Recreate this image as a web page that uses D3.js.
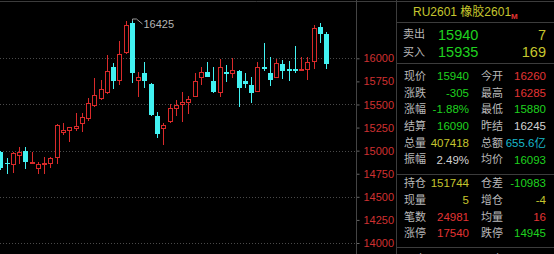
<!DOCTYPE html>
<html>
<head>
<meta charset="utf-8">
<script src="https://cdn.jsdelivr.net/npm/d3@7/dist/d3.min.js"></script>
<style>
  html, body { margin: 0; padding: 0; background: #000; overflow: hidden; }
  svg { display: block; font-family: "Liberation Sans", Arial, "Noto Sans CJK SC", sans-serif; }
</style>
</head>
<body>
<div id="chart"></div>
<script>
// daily candles, oldest first
const opens  = [14990,14867,14842,14945,14996,14855,14801,14841,14852,14917,15188,15216,15231,15285,15343,15483,15556,15627,15903,15754,16054,16379,15754,15838,15722,15378,15234,15307,15448,15491,15519,15584,15783,15855,15754,15627,15852,15827,15862,15754,15711,15638,15903,15844,15790,15938,15884,15884,15866,15873,15957,16342,16260];
const highs  = [15000,14917,14985,15043,15043,14989,14880,14928,14930,15285,15303,15260,15404,15404,15567,15783,15765,16036,15946,16191,16404,16425,15855,15957,15730,15422,15303,15502,15548,15638,15592,15838,15909,15957,15909,15992,15927,16006,15870,15838,15794,15963,16162,16017,15989,15982,15974,16133,16017,16017,16361,16379,16285];
const lows   = [14790,14747,14761,14855,14798,14852,14747,14747,14815,14855,15169,15097,15216,15205,15321,15469,15548,15613,15664,15711,16043,15736,15578,15675,15375,15134,15060,15296,15375,15307,15397,15578,15711,15794,15621,15584,15740,15783,15476,15675,15513,15630,15866,15700,15783,15773,15757,15838,15866,15765,15881,16162,15880];
const closes = [14809,14855,14978,14985,14877,14874,14855,14863,14924,15278,15224,15253,15267,15368,15513,15603,15668,15862,15757,16047,16361,15838,15794,15757,15386,15180,15278,15458,15494,15530,15556,15754,15855,15801,15638,15903,15827,15873,15675,15718,15627,15903,15884,15765,15946,15862,15866,15866,15884,15957,16325,16260,15940];

const yTicks = [14000,14250,14500,14750,15000,15250,15500,15750,16000];
const gridTicks = [14000,14500,15000,15500,16000];
const peakLabel = "16425";

// quote panel
const title = "RU2601 橡胶2601";
const bidAsk = [["卖出","15940","7"],["买入","15935","169"]];
const quoteRows = [
  ["现价","15940","今开","16260"],
  ["涨跌","-305","最高","16285"],
  ["涨幅","-1.88%","最低","15880"],
  ["结算","16090","昨结","16245"],
  ["总量","407418","总额","655.6亿"],
  ["振幅","2.49%","均价","16093"]
];
const posRows = [
  ["持仓","151744","仓差","-10983"],
  ["现量","5","增仓","-4"],
  ["笔数","24981","均量","16"],
  ["涨停","17540","跌停","14945"],
  ["开仓","396435","平仓","410491"]
];
const quoteColors = [["g","r"],["g","r"],["g","g"],["g","w"],["y","c"],["w","g"]];
const posColors = [["y","g"],["y","y"],["r","r"],["r","g"],["y","y"]];

const C = { g: "#1fd21f", r: "#e23434", y: "#c6c62e", c: "#19b9cc", w: "#d2d2d2", lab: "#b9b9b9" };
const RED = "#d92a2a", CYAN = "#42f2f2", LINE = "#3c3c3c";

const W = 554, H = 254, axisX = 356, panelX = 396;

const svg = d3.select("#chart").append("svg").attr("width", W).attr("height", H);
svg.append("rect").attr("width", W).attr("height", H).attr("fill", "#000");

const x = d3.scaleLinear().domain([0, opens.length - 1]).range([0.3, 326.3]);
const y = d3.scaleLinear().domain([14000, 16000]).range([243, 58.3]);

// frame
svg.append("line").attr("x1", 0).attr("x2", W).attr("y1", 1.5).attr("y2", 1.5).attr("stroke", LINE);

// dotted grid
svg.append("g").selectAll("line").data(gridTicks).join("line")
  .attr("x1", 0).attr("x2", axisX)
  .attr("y1", d => Math.round(y(d)) + 0.5).attr("y2", d => Math.round(y(d)) + 0.5)
  .attr("stroke", "#4a4a4a").attr("stroke-dasharray", "1,2");

// price axis
const axis = svg.append("g").attr("transform", `translate(${axisX + 0.5},0)`)
  .call(d3.axisRight(y).tickValues(yTicks).tickSize(3).tickPadding(4).tickFormat(d3.format("d")));
axis.select(".domain").remove();
axis.selectAll(".tick line").attr("stroke", "#666");
axis.selectAll(".tick text").attr("fill", "#cf3131").attr("font-size", "11px");
svg.append("line").attr("x1", axisX + 0.5).attr("x2", axisX + 0.5).attr("y1", 0).attr("y2", H).attr("stroke", "#444");

// candles
const candles = svg.append("g").selectAll("g").data(d3.range(opens.length)).join("g");
candles.each(function(i) {
  const g = d3.select(this);
  const cx = Math.round(x(i));
  const up = closes[i] >= opens[i];
  const col = up ? RED : CYAN;
  const top = Math.round(y(Math.max(opens[i], closes[i])));
  const bot = Math.max(top + 1, Math.round(y(Math.min(opens[i], closes[i]))));
  g.append("line").attr("x1", cx + 0.5).attr("x2", cx + 0.5)
    .attr("y1", Math.round(y(highs[i]))).attr("y2", Math.round(y(lows[i])))
    .attr("stroke", col);
  if (up) {
    g.append("rect").attr("x", cx - 1.5).attr("y", top + 0.5)
      .attr("width", 4).attr("height", Math.max(1, bot - top - 1))
      .attr("fill", "#000").attr("stroke", col);
  } else {
    g.append("rect").attr("x", cx - 2).attr("y", top)
      .attr("width", 5).attr("height", Math.max(1, bot - top))
      .attr("fill", col);
  }
});

// highest point marker
const iMax = d3.maxIndex(highs);
const px = Math.round(x(iMax)) + 0.5, py = Math.round(y(highs[iMax]));
svg.append("path")
  .attr("d", `M${px},${py + 2}L${px},${py}L${px + 4},${py}L${px + 10},${py + 5}`)
  .attr("fill", "none").attr("stroke", "#9a9a9a");
svg.append("text").attr("x", px + 11).attr("y", py + 5).attr("dy", "0.35em")
  .attr("fill", "#b4b4b4").attr("font-size", "11px").text(peakLabel);

// panel
svg.append("line").attr("x1", panelX + 0.5).attr("x2", panelX + 0.5).attr("y1", 0).attr("y2", H).attr("stroke", LINE);
[22.5, 63.5, 174.5, 247.5].forEach(v => {
  svg.append("line").attr("x1", panelX).attr("x2", W).attr("y1", v).attr("y2", v).attr("stroke", LINE);
});

svg.append("text").attr("x", 413).attr("y", 12).attr("dy", "0.35em")
  .attr("fill", C.y).attr("font-size", "12px").text(title);
svg.append("text").attr("x", 511).attr("y", 16).attr("dy", "0.35em")
  .attr("fill", C.r).attr("font-size", "8px").attr("font-weight", "bold").text("M");

const panel = svg.append("g");
bidAsk.forEach((r, k) => {
  const yy = 34.5 + k * 17.3;
  panel.append("text").attr("x", 403).attr("y", yy).attr("dy", "0.35em")
    .attr("fill", C.lab).attr("font-size", "11px").text(r[0]);
  panel.append("text").attr("x", 438).attr("y", yy).attr("dy", "0.35em")
    .attr("fill", C.g).attr("font-size", "14.5px").text(r[1]);
  panel.append("text").attr("x", 546).attr("y", yy).attr("dy", "0.35em").attr("text-anchor", "end")
    .attr("fill", C.y).attr("font-size", "14.5px").text(r[2]);
});

function rows(data, colors, y0) {
  data.forEach((r, k) => {
    const yy = y0 + k * 16.7;
    panel.append("text").attr("x", 404).attr("y", yy).attr("dy", "0.35em")
      .attr("fill", C.lab).attr("font-size", "11px").text(r[0]);
    panel.append("text").attr("x", 469).attr("y", yy).attr("dy", "0.35em").attr("text-anchor", "end")
      .attr("fill", C[colors[k][0]]).attr("font-size", "11.5px").text(r[1]);
    panel.append("text").attr("x", 481).attr("y", yy).attr("dy", "0.35em")
      .attr("fill", C.lab).attr("font-size", "11px").text(r[2]);
    panel.append("text").attr("x", 546).attr("y", yy).attr("dy", "0.35em").attr("text-anchor", "end")
      .attr("fill", C[colors[k][1]]).attr("font-size", "11.5px").text(r[3]);
  });
}
rows(quoteRows, quoteColors, 76);
rows(posRows.slice(0, 4), posColors, 183.3);
rows(posRows.slice(4), posColors.slice(4), 259);
</script>
</body>
</html>
